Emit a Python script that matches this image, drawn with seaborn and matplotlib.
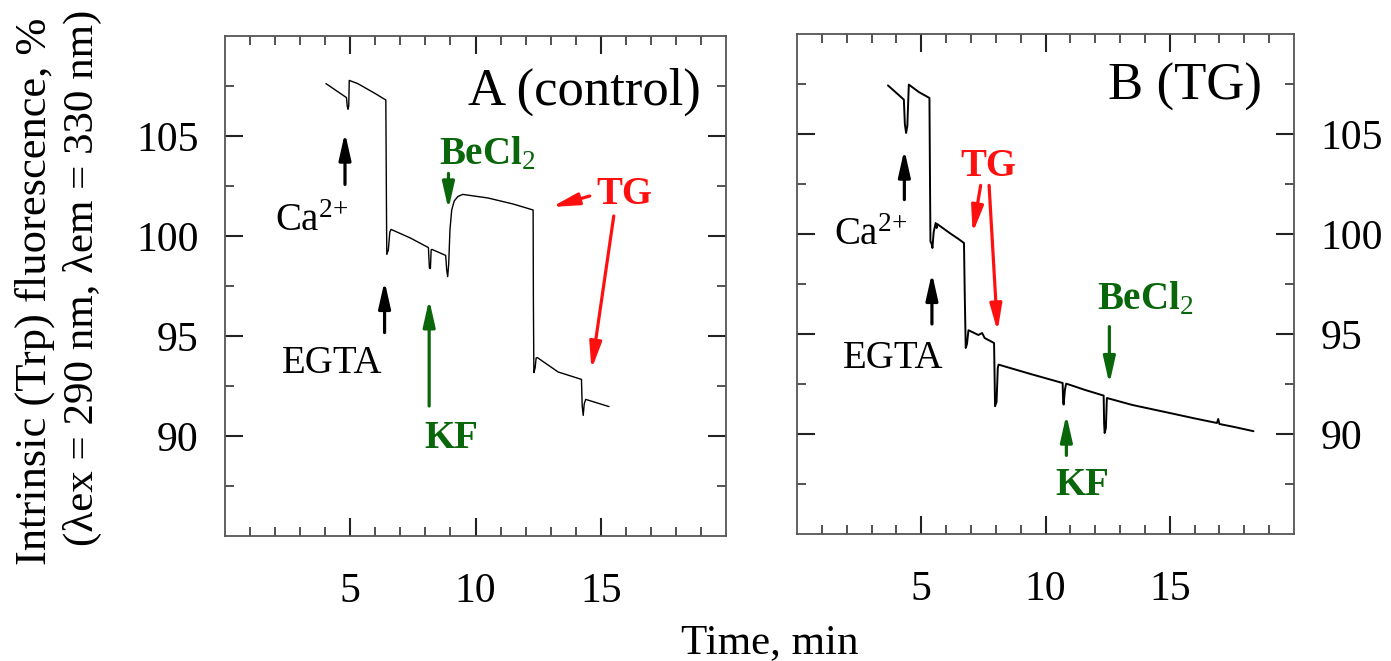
import matplotlib
matplotlib.use("Agg")
import matplotlib.pyplot as plt
import seaborn as sns

# ---- Trace data: time (min) vs. intrinsic Trp fluorescence (%) ----
time_a = [4.03, 4.85, 4.88, 4.91, 4.94, 4.96, 5.3, 6.0, 6.42, 6.45, 6.46, 6.52, 6.58, 6.63,
          7.4, 8.12, 8.16, 8.20, 8.23, 8.26, 8.81, 8.85, 8.89, 8.93, 8.98, 9.05, 9.15, 9.30,
          9.49, 10.5, 11.5, 12.30, 12.31, 12.33, 12.38, 12.42, 12.47, 13.3, 14.23, 14.26,
          14.30, 14.34, 14.40, 15.33]
fluor_a = [107.62, 106.92, 106.5, 106.33, 106.5, 107.78, 107.62, 107.12, 106.8, 100.5, 99.08,
           99.3, 100.2, 100.33, 99.9, 99.42, 98.4, 98.37, 99.3, 99.33, 99.03, 98.3, 97.97,
           98.6, 100.3, 101.3, 101.75, 101.98, 102.08, 101.9, 101.6, 101.3, 97.0, 93.17,
           93.4, 93.9, 93.92, 93.2, 92.83, 91.5, 91.03, 91.6, 91.83, 91.47]

time_b = [3.66, 4.30, 4.34, 4.39, 4.44, 4.50, 4.9, 5.33, 5.35, 5.37, 5.42, 5.45, 5.50, 5.58,
          5.62, 5.64, 6.2, 6.5, 6.72, 6.75, 6.79, 6.84, 6.90, 7.3, 7.45, 7.55, 7.93, 7.95,
          7.97, 8.03, 8.08, 8.11, 9.4, 10.69, 10.71, 10.73, 10.78, 10.83, 11.6, 12.34, 12.36,
          12.38, 12.43, 12.47, 13.5, 15.0, 16.0, 16.9, 16.95, 17.0, 17.6, 18.37]
fluor_b = [107.43, 106.72, 105.5, 105.05, 105.4, 107.47, 107.1, 106.8, 103.0, 99.63, 99.5,
           99.3, 100.1, 100.55, 100.3, 100.5, 100.0, 99.75, 99.55, 97.0, 94.3, 94.5, 95.19,
           94.95, 95.05, 94.8, 94.55, 93.0, 91.39, 91.6, 93.3, 93.47, 93.0, 92.55, 91.6,
           91.47, 92.2, 92.52, 92.2, 91.92, 90.5, 90.05, 90.3, 91.8, 91.45, 91.05, 90.78,
           90.55, 90.75, 90.5, 90.35, 90.14]

# ---- Axis ticks ----
x_major = [5, 10, 15]
x_minor = [1, 2, 3, 4, 6, 7, 8, 9, 11, 12, 13, 14, 16, 17, 18, 19]
y_major = [90, 95, 100, 105]
y_minor = [87.5, 92.5, 97.5, 102.5, 107.5]

BLACK = "black"
GREEN = "#0a660a"
RED = "#ff1010"

CA = "Ca$^{2{+}}$"
BECL2 = "$\\mathbf{BeCl}_2$"

# Additions: (label, colour, bold, label x, label y, [(tail x, tail y, head x, head y), ...])
marks_a = [
    (CA, BLACK, False, 3.47, 100.25, [(4.79, 102.58, 4.79, 105.17)]),
    ("EGTA", BLACK, False, 4.28, 93.17, [(6.37, 95.17, 6.37, 97.75)]),
    ("KF", GREEN, True, 9.04, 89.42, [(8.15, 91.5, 8.15, 96.83)]),
    (BECL2, GREEN, False, 10.45, 103.58, [(8.92, 103.13, 8.92, 101.33)]),
    ("TG", RED, True, 15.95, 101.58, [(14.56, 102.0, 13.04, 101.45),
                                      (15.52, 101.0, 14.63, 93.33)]),
]
marks_b = [
    (CA, BLACK, False, 2.98, 99.47, [(4.32, 101.72, 4.32, 104.22)]),
    ("EGTA", BLACK, False, 3.86, 93.3, [(5.43, 95.5, 5.43, 98.05)]),
    ("TG", RED, True, 7.70, 102.88, [(7.39, 102.43, 7.07, 100.05),
                                     (7.73, 102.43, 8.07, 95.13)]),
    ("KF", GREEN, True, 11.5, 86.97, [(10.84, 88.93, 10.84, 90.97)]),
    (BECL2, GREEN, False, 14.02, 96.22, [(12.57, 95.37, 12.57, 92.5)]),
]

sns.set_theme(style="white")
plt.rcParams.update({
    "font.family": ["Liberation Serif", "DejaVu Serif"],
    "mathtext.fontset": "custom",
    "mathtext.rm": "Liberation Serif",
    "mathtext.bf": "Liberation Serif:bold",
    "mathtext.it": "Liberation Serif:italic",
    "mathtext.default": "regular",
    "text.color": "black",
    "axes.labelcolor": "black",
    "xtick.color": "black",
    "ytick.color": "black",
})

fig = plt.figure(figsize=(13.91, 6.61), dpi=100)
W, H = 1391.0, 661.0
ax_a = fig.add_axes([225 / W, (H - 536) / H, 501 / W, 500 / H])
ax_b = fig.add_axes([797 / W, (H - 534) / H, 497 / W, 500 / H])


def style_axes(ax, label_side):
    ax.set_xlim(0, 20)
    ax.set_ylim(85, 110)
    ax.set_xticks(x_major)
    ax.set_xticks(x_minor, minor=True)
    ax.set_yticks(y_major)
    ax.set_yticks(y_minor, minor=True)
    ax.set_xticklabels([str(v) for v in x_major])
    ax.set_yticklabels([str(v) for v in y_major])
    ax.set_xlabel("")
    ax.set_ylabel("")
    for sp in ax.spines.values():
        sp.set_visible(True)
        sp.set_color("#555555")
        sp.set_linewidth(1.3)
    ax.tick_params(which="both", direction="in", top=True, bottom=True, left=True,
                   right=True, colors="#222222", labelcolor="black")
    ax.tick_params(which="major", length=13, width=1.5, labelsize=30)
    ax.tick_params(which="minor", length=6.5, width=1.1)
    ax.tick_params(axis="x", which="major", pad=26)
    ax.tick_params(axis="y", which="major", pad=19,
                   labelleft=(label_side == "left"), labelright=(label_side == "right"))
    ax.grid(False)


def add_marks(ax, marks):
    for text, color, bold, lx, ly, arrows in marks:
        ax.text(lx, ly, text, color=color, fontsize=28, ha="center", va="baseline",
                fontweight="bold" if bold else "normal")
        for tx, ty, hx, hy in arrows:
            ax.annotate("", xy=(hx, hy), xytext=(tx, ty),
                        arrowprops=dict(arrowstyle="-|>,head_length=0.8,head_width=0.18",
                                        color=color, lw=2.3, shrinkA=0, shrinkB=0,
                                        mutation_scale=20))


sns.lineplot(x=time_a, y=fluor_a, ax=ax_a, color="black", linewidth=1.0,
             sort=False, estimator=None)
sns.lineplot(x=time_b, y=fluor_b, ax=ax_b, color="black", linewidth=1.4,
             sort=False, estimator=None)

style_axes(ax_a, "left")
style_axes(ax_b, "right")
add_marks(ax_a, marks_a)
add_marks(ax_b, marks_b)

ax_a.text(0.95, 0.862, "A (control)", transform=ax_a.transAxes, fontsize=38,
          ha="right", va="baseline")
ax_b.text(0.935, 0.868, "B (TG)", transform=ax_b.transAxes, fontsize=38,
          ha="right", va="baseline")

fig.text(770 / W, (H - 653) / H, "Time, min", fontsize=31, ha="center", va="baseline")
fig.text(35 / W, (H - 291) / H, "Intrinsic (Trp) fluorescence, %",
         fontsize=32, rotation=90, ha="center", va="center")
fig.text(82 / W, (H - 278) / H, "(\u03bbex = 290 nm, \u03bbem = 330 nm)",
         fontsize=31, rotation=90, ha="center", va="center")

fig.savefig("out.png", dpi=100, facecolor="white")
